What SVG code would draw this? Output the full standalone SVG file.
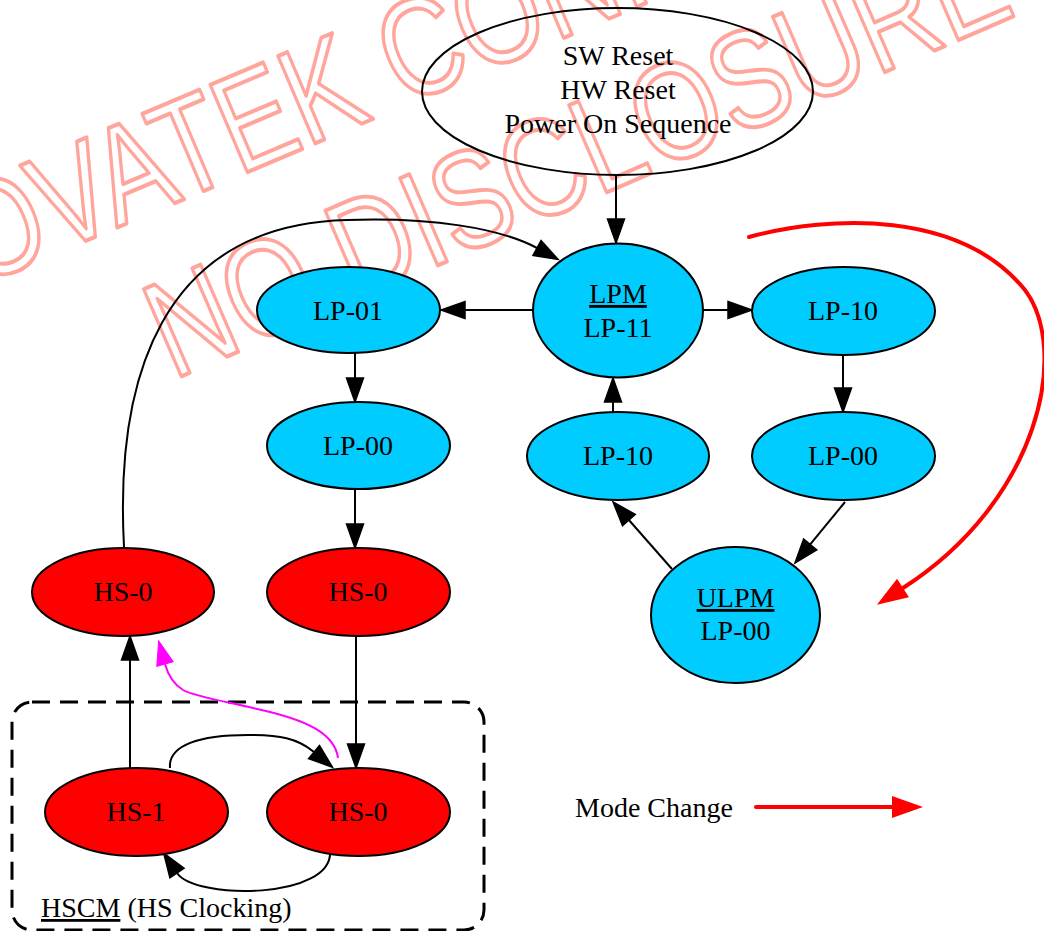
<svg xmlns="http://www.w3.org/2000/svg" width="1044" height="931" viewBox="0 0 1044 931">
<style>
.n{stroke:#000;stroke-width:2}
.lp{fill:#00ccff}
.hs{fill:#ff0000}
.t{font-family:"Liberation Serif","Times New Roman",serif;font-size:28px;fill:#000;text-anchor:middle}
.u{text-decoration:underline}
.e{fill:none;stroke:#000;stroke-width:2}
.wm{fill:none;stroke:#ffa59c;stroke-width:4;stroke-linejoin:round;font-family:"Liberation Sans",Arial,sans-serif;font-size:138px}
</style>
<defs>
<marker id="ah" markerUnits="userSpaceOnUse" viewBox="0 -10 26 20" markerWidth="26" markerHeight="20" refX="0" refY="0" orient="auto" style="overflow:visible">
<path d="M0,-8.5 L24,0 L0,8.5 z" fill="#000" stroke="#000" stroke-width="1.5"/>
</marker>
<marker id="am" markerUnits="userSpaceOnUse" viewBox="0 -10 26 20" markerWidth="26" markerHeight="20" refX="0" refY="0" orient="auto" style="overflow:visible">
<path d="M0,-8.5 L24,0 L0,8.5 z" fill="#ff00ff" stroke="#ff00ff" stroke-width="1"/>
</marker>
<marker id="ar" markerUnits="userSpaceOnUse" viewBox="0 -12 32 24" markerWidth="32" markerHeight="24" refX="0" refY="0" orient="auto" style="overflow:visible">
<path d="M0,-11 L31,0 L0,11 z" fill="#ff0000"/>
</marker>
</defs>
<rect width="1044" height="931" fill="#fff"/>
<g id="watermark">
<text class="wm" transform="translate(-96,318) rotate(-23) scale(0.8,1)">NOVATEK CONFIDENTIAL</text>
<text class="wm" transform="translate(173,380) rotate(-23.4) scale(0.806,1)">NO DISCLOSURE</text>
</g>
<g id="hscm-cluster">
<rect x="12" y="702" width="472" height="228" rx="20" fill="none" stroke="#000" stroke-width="3" stroke-dasharray="18 10"/>
<text x="41" y="917" style="font-family:'Liberation Serif','Times New Roman',serif;font-size:28px"><tspan class="u">HSCM</tspan> (HS Clocking)</text>
</g>
<g id="edges">
<path class="e" d="M616,175 L616,219" marker-end="url(#ah)"/>
<path class="e" d="M533,310 L465,310" marker-end="url(#ah)"/>
<path class="e" d="M703,310 L728,310" marker-end="url(#ah)"/>
<path class="e" d="M355,353 L355,378" marker-end="url(#ah)"/>
<path class="e" d="M843,355 L843,388" marker-end="url(#ah)"/>
<path class="e" d="M355,489 L355,524" marker-end="url(#ah)"/>
<path class="e" d="M356,636 L356,744" marker-end="url(#ah)"/>
<path class="e" d="M845,502 L810.2,544.4" marker-end="url(#ah)"/>
<path class="e" d="M672,569 L628.9,520" marker-end="url(#ah)"/>
<path class="e" d="M613,412 L613,402" marker-end="url(#ah)"/>
<path class="e" d="M130,768 L130,660" marker-end="url(#ah)"/>
<path class="e" d="M170,768 C168,745 200,735 248,735 C280,735 297,738 314,752" marker-end="url(#ah)"/>
<path class="e" d="M330,850 C335,900 195,900 177,873" marker-end="url(#ah)"/>
<path class="e" d="M124,547 C115,380 160,225 347,220 C430,217 500,228 537,248" marker-end="url(#ah)"/>
<path d="M338,758 C335,735 310,722 270,712 C230,702 195,697 183,690 C175,685 168,675 165,664" fill="none" stroke="#ff00ff" stroke-width="2" marker-end="url(#am)"/>
<path d="M749,237 C830,215 960,210 1025,290 C1070,350 1040,500 903,588" fill="none" stroke="#ff0000" stroke-width="4" stroke-linecap="round" marker-end="url(#ar)"/>
</g>
<g id="n-reset"><ellipse class="n" cx="617.5" cy="91.5" rx="195.5" ry="83.5" fill="none"/>
<text class="t" x="618" y="65">SW Reset</text><text class="t" x="618" y="99">HW Reset</text><text class="t" x="618" y="133">Power On Sequence</text></g>
<g id="n-lpm"><ellipse class="n lp" cx="618" cy="310.5" rx="85" ry="67"/>
<text class="t" x="618" y="303"><tspan class="u">LPM</tspan></text><text class="t" x="618" y="337">LP-11</text></g>
<g id="n-lp01"><ellipse class="n lp" cx="348.5" cy="310" rx="91.5" ry="43"/><text class="t" x="348" y="320">LP-01</text></g>
<g id="n-lp10a"><ellipse class="n lp" cx="843.5" cy="311" rx="91.5" ry="44"/><text class="t" x="843" y="320">LP-10</text></g>
<g id="n-lp00a"><ellipse class="n lp" cx="358.5" cy="445.5" rx="91.5" ry="43.5"/><text class="t" x="358" y="455">LP-00</text></g>
<g id="n-lp10b"><ellipse class="n lp" cx="618" cy="456" rx="91" ry="44"/><text class="t" x="618" y="465">LP-10</text></g>
<g id="n-lp00b"><ellipse class="n lp" cx="843.5" cy="456" rx="91.5" ry="44"/><text class="t" x="843" y="465">LP-00</text></g>
<g id="n-ulpm"><ellipse class="n lp" cx="735.5" cy="615" rx="84.5" ry="68"/>
<text class="t" x="735.5" y="607"><tspan class="u">ULPM</tspan></text><text class="t" x="735.5" y="640">LP-00</text></g>
<g id="n-hs0a"><ellipse class="n hs" cx="123" cy="592" rx="91" ry="44"/><text class="t" x="123" y="601">HS-0</text></g>
<g id="n-hs0b"><ellipse class="n hs" cx="358.5" cy="592" rx="91.5" ry="44"/><text class="t" x="358" y="601">HS-0</text></g>
<g id="n-hs1"><ellipse class="n hs" cx="136.5" cy="812" rx="91.5" ry="44"/><text class="t" x="136" y="821">HS-1</text></g>
<g id="n-hs0c"><ellipse class="n hs" cx="358.5" cy="812" rx="91.5" ry="44"/><text class="t" x="358" y="821">HS-0</text></g>
<g id="legend">
<text x="575" y="817" style="font-family:'Liberation Serif','Times New Roman',serif;font-size:28px">Mode Change</text>
<path d="M756,807 L892,807" fill="none" stroke="#ff0000" stroke-width="4" stroke-linecap="round" marker-end="url(#ar)"/>
</g>
</svg>
